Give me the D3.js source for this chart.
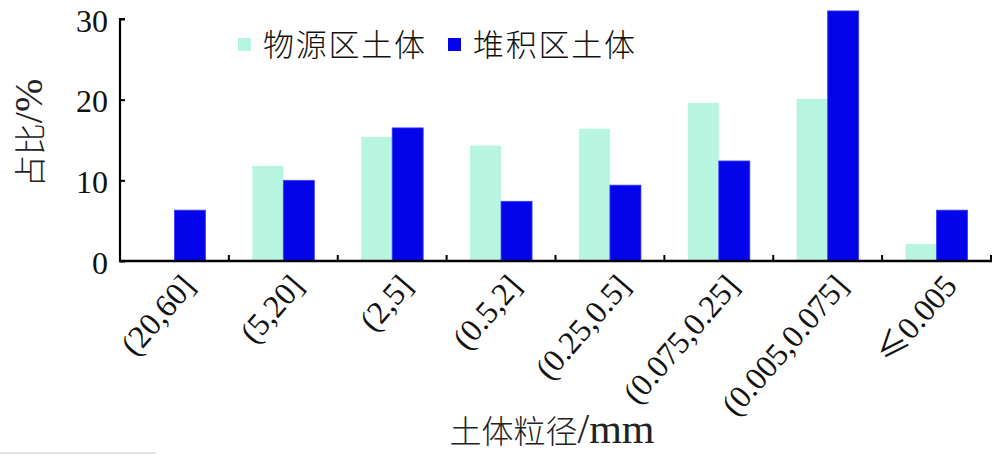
<!DOCTYPE html>
<html><head><meta charset="utf-8">
<script src="https://cdn.jsdelivr.net/npm/d3@7/dist/d3.min.js"></script>
<style>body{margin:0;background:#fff}svg{display:block}</style>
</head><body>
<svg id="c" width="1000" height="456"></svg>
<script>
const categories = ["(20,60]","(5,20]","(2,5]","(0.5,2]","(0.25,0.5]","(0.075,0.25]","(0.005,0.075]","≤0.005"];
const seriesNames = ["物源区土体","堆积区土体"];
const sourceValues = [0, 11.8, 15.4, 14.3, 16.4, 19.6, 20.1, 2.1];
const depositValues = [6.3, 10.0, 16.5, 7.4, 9.4, 12.4, 31.0, 6.3];
const yTicks = [0, 10, 20, 30];
const colors = ["#b8f5e1", "#0404ea"];

const svg = d3.select("#c");
const serif = "'Liberation Serif','Times New Roman',serif";
const cjk = "'Noto Sans CJK SC','Noto Sans CJK JP',sans-serif";

const x = d3.scaleBand().domain(categories).range([120, 991]).padding(0);
const y = d3.scaleLinear().domain([0, 30]).range([261, 19]);
const inner = d3.scaleBand().domain(seriesNames).range([-31, 31]);

const data = categories.map((c, i) => ({c, vals: [sourceValues[i], depositValues[i]]}));

// bars
const g = svg.append("g");
data.forEach(d => {
  d.vals.forEach((v, k) => {
    if (v <= 0) return;
    g.append("rect")
      .attr("x", x(d.c) + x.bandwidth()/2 + inner(seriesNames[k]))
      .attr("y", y(v))
      .attr("width", inner.bandwidth())
      .attr("height", y(0) - y(v))
      .attr("fill", colors[k])
      .attr("stroke", k === 1 ? "#3b3bf5" : "none")
      .attr("stroke-width", 0.8);
  });
});

// y axis
const yAxis = svg.append("g").attr("transform", "translate(120,0)")
  .call(d3.axisRight(y).tickValues(yTicks).tickSize(5).tickFormat(""));
yAxis.select(".domain").attr("d", `M5,${y(30)}H0V${y(0)+1}`).attr("stroke", "#000").attr("stroke-width", 2.2);
yAxis.selectAll(".tick line").attr("stroke", "#000").attr("stroke-width", 2);
svg.append("g").selectAll("text").data(yTicks).join("text")
  .attr("x", 108).attr("y", d => y(d) + 12.5)
  .attr("text-anchor", "end")
  .style("font-family", serif).style("font-size", "32px").attr("fill", "#111")
  .text(d => d);

// x axis
const xb = svg.append("g").attr("transform", "translate(0,261)");
xb.append("line").attr("x1", 119).attr("x2", 992).attr("y1", 0).attr("y2", 0)
  .attr("stroke", "#000").attr("stroke-width", 2.4);
const bounds = categories.map(c => x(c)).concat([x.range()[1]]);
xb.selectAll(".tk").data(bounds.slice(1)).join("line")
  .attr("x1", d => d).attr("x2", d => d).attr("y1", 0).attr("y2", -6)
  .attr("stroke", "#000").attr("stroke-width", 2);

svg.append("g").selectAll("text").data(categories).join("text")
  .attr("transform", d => `translate(${x(d) + x.bandwidth()/2 + 22},${287}) rotate(-49)`)
  .attr("text-anchor", "end")
  .style("font-family", serif).style("font-size", "32px").attr("fill", "#111")
  .call(t => t.each(function(d) {
    const el = d3.select(this);
    if (d.startsWith("≤")) {
      el.append("tspan").style("font-family", cjk).text("≤");
      el.append("tspan").text(d.slice(1));
    } else el.text(d);
  }));

// axis titles
svg.append("text").attr("x", 552).attr("y", 443).attr("text-anchor", "middle")
  .attr("fill", "#222")
  .call(t => {
    t.append("tspan").style("font-family", cjk).style("font-size", "32px").style("font-weight", 300).text("土体粒径");
    t.append("tspan").style("font-family", serif).style("font-size", "42px").text("/mm");
  });
svg.append("text").attr("transform", "translate(42,133) rotate(-90)").attr("text-anchor", "middle")
  .attr("fill", "#222")
  .call(t => {
    t.append("tspan").style("font-family", cjk).style("font-size", "32px").style("font-weight", 300).text("占比");
    t.append("tspan").style("font-family", serif).style("font-size", "40px").text("/%");
  });

// legend
const legendX = [238, 448];
const legend = svg.append("g");
seriesNames.forEach((n, k) => {
  legend.append("rect").attr("x", legendX[k]).attr("y", 38).attr("width", 13).attr("height", 13)
    .attr("fill", colors[k]);
  legend.append("text").attr("x", legendX[k] + 25).attr("y", 56)
    .style("font-family", cjk).style("font-weight", 300).style("font-size", "31px").attr("fill", "#111")
    .attr("textLength", 162).text(n);
});

// faint scan line at bottom-left of the original figure
svg.append("line").attr("x1", 0).attr("x2", 156).attr("y1", 453).attr("y2", 453)
  .attr("stroke", "#c8c8c8").attr("stroke-width", 1);
</script>
</body></html>
